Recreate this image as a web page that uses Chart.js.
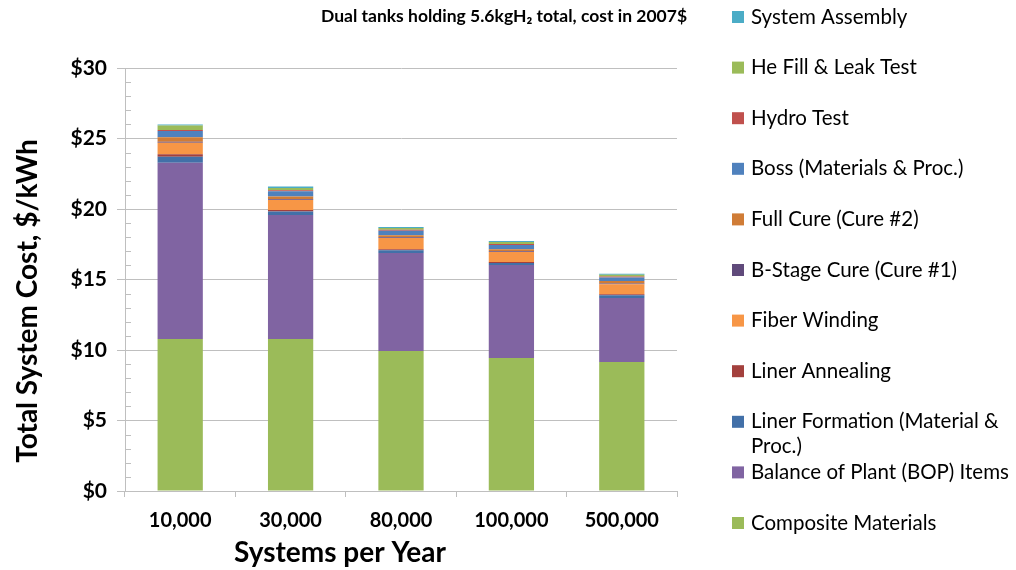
<!DOCTYPE html>
<html>
<head>
<meta charset="utf-8">
<script src="https://cdn.jsdelivr.net/npm/chart.js@4/dist/chart.umd.min.js"></script>
<style>
  html, body { margin: 0; padding: 0; background: #fff; }
  #wrap { width: 1016px; height: 570px; }
</style>
</head>
<body>
<div id="wrap"><canvas id="c" width="1016" height="570"></canvas></div>
<script>
// Production volumes (systems per year)
const categories = ['10,000', '30,000', '80,000', '100,000', '500,000'];

// Cost components, $/kWh, stacked bottom to top
const compositeMaterials = [10.78, 10.78, 9.93, 9.43, 9.15];
const balanceOfPlant     = [12.50, 8.79, 6.95, 6.60, 4.54];
const linerFormation     = [0.43, 0.26, 0.19, 0.14, 0.19];
const linerAnnealing     = [0.17, 0.10, 0.07, 0.07, 0.07];
const fiberWinding       = [0.82, 0.71, 0.81, 0.71, 0.71];
const bStageCure         = [0.07, 0.05, 0.05, 0.05, 0.05];
const fullCure           = [0.31, 0.19, 0.14, 0.14, 0.19];
const bossCost           = [0.45, 0.38, 0.31, 0.31, 0.24];
const hydroTest          = [0.07, 0.07, 0.07, 0.07, 0.07];
const heFillLeakTest     = [0.32, 0.16, 0.14, 0.14, 0.12];
const systemAssembly     = [0.08, 0.10, 0.07, 0.07, 0.07];

const seriesLabels = [
  'Composite Materials', 'Balance of Plant (BOP) Items', 'Liner Formation (Material & Proc.)',
  'Liner Annealing', 'Fiber Winding', 'B-Stage Cure (Cure #1)', 'Full Cure (Cure #2)',
  'Boss (Materials & Proc.)', 'Hydro Test', 'He Fill & Leak Test', 'System Assembly'
];
const seriesValues = [
  compositeMaterials, balanceOfPlant, linerFormation, linerAnnealing, fiberWinding,
  bStageCure, fullCure, bossCost, hydroTest, heFillLeakTest, systemAssembly
];
const seriesColors = [
  '#9BBB59', '#8064A2', '#4270A8', '#A3403D', '#F79646',
  '#604A7B', '#D07C36', '#4F81BD', '#C0504D', '#9BBB59', '#4BACC6'
];

const yTicks = [0, 5, 10, 15, 20, 25, 30];

const subtitle = 'Dual tanks holding 5.6kgH\u2082 total, cost in 2007$';
const yTitle = 'Total System Cost, $/kWh';
const xTitle = 'Systems per Year';

const FONT = 'Lato, "Open Sans", sans-serif';

// Extra drawing: subtitle, axis titles, inner minor ticks, and the legend column
const decorations = {
  id: 'decorations',
  afterDraw(chart) {
    const ctx = chart.ctx;
    const y = chart.scales.y;
    const area = chart.chartArea;
    ctx.save();

    // minor tick marks inside the plot, every $1
    ctx.strokeStyle = '#BFBFBF';
    ctx.lineWidth = 1;
    for (let v = 1; v < 30; v++) {
      if (v % 5 === 0) continue;
      const py = Math.round(y.getPixelForValue(v)) + 0.5;
      ctx.beginPath();
      ctx.moveTo(area.left, py);
      ctx.lineTo(area.left + 6, py);
      ctx.stroke();
    }

    // subtitle
    ctx.fillStyle = '#000';
    ctx.textAlign = 'center';
    ctx.textBaseline = 'middle';
    ctx.font = 'bold 17.5px ' + FONT;
    ctx.fillText(subtitle, 504, 16);

    // axis titles
    ctx.font = 'bold 28px ' + FONT;
    ctx.fillText(xTitle, 340, 553);
    ctx.save();
    ctx.translate(28, 301);
    ctx.rotate(-Math.PI / 2);
    ctx.fillText(yTitle, 0, 0);
    ctx.restore();

    // legend, top entry is the top of the stack
    ctx.font = '20.5px ' + FONT;
    ctx.textAlign = 'left';
    const maxW = 1016 - 751;
    const n = chart.data.datasets.length;
    for (let i = 0; i < n; i++) {
      const ds = chart.data.datasets[n - 1 - i];
      const cy = 17 + i * 50.6;
      ctx.fillStyle = ds.backgroundColor;
      ctx.fillRect(732, cy - 6, 12, 12);
      ctx.fillStyle = '#000';
      // wrap long labels onto a second line
      const words = ds.label.split(' ');
      const lines = [];
      let line = '';
      for (const w of words) {
        const test = line ? line + ' ' + w : w;
        if (ctx.measureText(test).width > maxW && line) {
          lines.push(line);
          line = w;
        } else {
          line = test;
        }
      }
      lines.push(line);
      lines.forEach((t, k) => ctx.fillText(t, 751, cy + k * 25));
    }
    ctx.restore();
  }
};

new Chart(document.getElementById('c'), {
  type: 'bar',
  data: {
    labels: categories,
    datasets: seriesLabels.map((label, i) => ({
      label,
      data: seriesValues[i],
      backgroundColor: seriesColors[i],
      borderWidth: 0,
      barPercentage: 0.41,
      categoryPercentage: 1.0
    }))
  },
  options: {
    responsive: false,
    animation: false,
    layout: { padding: { left: 0, top: 68, right: 339, bottom: 0 } },
    plugins: {
      legend: { display: false },
      tooltip: { enabled: false },
      title: { display: false }
    },
    scales: {
      x: {
        stacked: true,
        afterFit(s) { s.height = 79; },
        grid: {
          drawOnChartArea: false,
          offset: true,
          tickLength: 6,
          color: '#BFBFBF'
        },
        border: { color: '#BFBFBF', width: 1 },
        ticks: {
          color: '#000',
          padding: 12,
          maxRotation: 0,
          font: { family: FONT, size: 20, weight: 'bold' }
        }
      },
      y: {
        stacked: true,
        min: 0,
        max: 30,
        afterFit(s) { s.width = 125; },
        afterBuildTicks(s) { s.ticks = yTicks.map(v => ({ value: v })); },
        grid: {
          color: '#BFBFBF',
          tickLength: 8,
          tickColor: '#BFBFBF'
        },
        border: { color: '#BFBFBF', width: 1 },
        ticks: {
          color: '#000',
          padding: 10,
          font: { family: FONT, size: 21, weight: 'bold' },
          callback: v => '$' + v
        }
      }
    }
  },
  plugins: [decorations]
});
</script>
</body>
</html>
